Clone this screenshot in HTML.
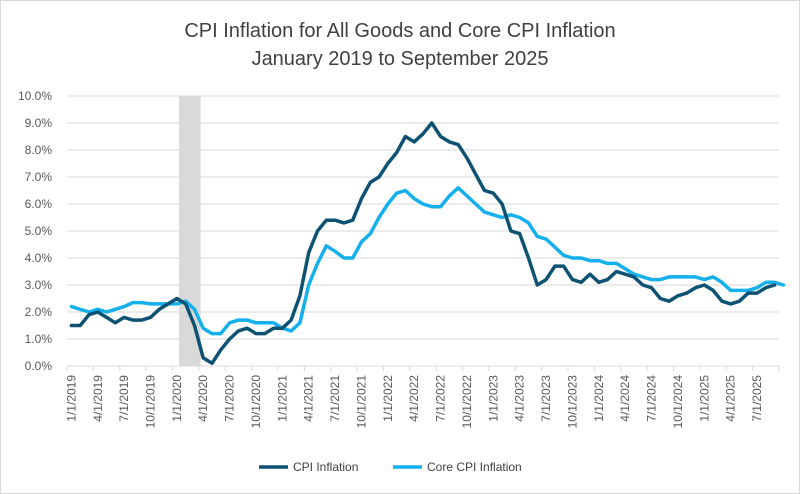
<!DOCTYPE html>
<html><head><meta charset="utf-8"><style>
html,body{margin:0;padding:0;background:#fff;}
svg{display:block;font-family:"Liberation Sans",Arial,sans-serif;}
</style></head><body>
<svg id="chart" width="800" height="494" viewBox="0 0 800 494">
<rect x="0.5" y="0.5" width="799" height="493" fill="#fff" stroke="#d9d9d9"/>
<text x="400" y="37" text-anchor="middle" font-size="20" fill="#404040">CPI Inflation for All Goods and Core CPI Inflation</text>
<text x="400" y="65" text-anchor="middle" font-size="20" fill="#404040">January 2019 to September 2025</text>
<g id="grid"></g>
<g id="shade"></g>
<g id="yaxis"></g>
<g id="xaxis"></g>
<g id="series"></g>
<g>
<g>
<line x1="259" y1="467" x2="288" y2="467" stroke="#0d5273" stroke-width="3.5"/>
<text x="293" y="471" font-size="12" fill="#404040">CPI Inflation</text>
</g>
<g>
<line x1="393" y1="467" x2="422" y2="467" stroke="#14b0ec" stroke-width="3.5"/>
<text x="427" y="471" font-size="12" fill="#404040">Core CPI Inflation</text>
</g>
</g>
</svg>
<script>
const months = [];
for (let y = 2019; y <= 2025; y++) for (let m = 1; m <= 12; m++) { if (y === 2025 && m > 9) break; months.push(m + "/1/" + y); }
const cpiValues = [1.5,1.5,1.9,2.0,1.8,1.6,1.8,1.7,1.7,1.8,2.1,2.3,
2.5,2.3,1.5,0.3,0.1,0.6,1.0,1.3,1.4,1.2,1.2,1.4,
1.4,1.7,2.6,4.2,5.0,5.4,5.4,5.3,5.4,6.2,6.8,7.0,
7.5,7.9,8.5,8.3,8.6,9.0,8.5,8.3,8.2,7.7,7.1,6.5,
6.4,6.0,5.0,4.9,4.0,3.0,3.2,3.7,3.7,3.2,3.1,3.4,
3.1,3.2,3.5,3.4,3.3,3.0,2.9,2.5,2.4,2.6,2.7,2.9,
3.0,2.8,2.4,2.3,2.4,2.7,2.7,2.9,3.0];
const coreValues = [2.2,2.1,2.0,2.1,2.0,2.1,2.2,2.35,2.35,2.3,2.3,2.3,
2.3,2.4,2.1,1.4,1.2,1.2,1.6,1.7,1.7,1.6,1.6,1.6,
1.4,1.3,1.6,3.0,3.8,4.45,4.25,4.0,4.0,4.6,4.9,5.5,
6.0,6.4,6.5,6.2,6.0,5.9,5.9,6.3,6.6,6.3,6.0,5.7,
5.6,5.5,5.6,5.5,5.3,4.8,4.7,4.4,4.1,4.0,4.0,3.9,
3.9,3.8,3.8,3.6,3.4,3.3,3.2,3.2,3.3,3.3,3.3,3.3,
3.2,3.3,3.1,2.8,2.8,2.8,2.9,3.1,3.1,3.0];
const yTicks = [0,1,2,3,4,5,6,7,8,9,10];
const recessionStart = 12.75, recessionEnd = 15.2;

const NS = "http://www.w3.org/2000/svg";
const L = 67, R = 779, T = 96, B = 366;
const step = (R - L) / months.length;
const xPos = i => L + step * (i + 0.5);
const xEdge = i => L + step * i;
const yPos = v => B - (B - T) * v / 10;
function mk(tag, attrs, parent){ const e = document.createElementNS(NS, tag); for (const k in attrs) e.setAttribute(k, attrs[k]); parent.appendChild(e); return e; }

const grid = document.getElementById('grid'), yaxis = document.getElementById('yaxis');
yTicks.forEach(t => {
  if (t > 0) {
    const g = mk('line', {x1:L, x2:R, y1:yPos(t), y2:yPos(t), stroke:'#d9d9d9', 'stroke-width':1}, grid);
    
    
  }
  const lb = mk('text', {x:52, y:yPos(t)+4, 'text-anchor':'end', 'font-size':12, fill:'#595959'}, yaxis);
  lb.textContent = t.toFixed(1) + '%';
  
  
});

const sh = mk('rect', {x:xEdge(recessionStart), y:T, width:xEdge(recessionEnd)-xEdge(recessionStart), height:B-T, fill:'#d9d9d9'}, document.getElementById('shade'));



const xaxis = document.getElementById('xaxis');
const ax = mk('line', {x1:L, x2:R, y1:B, y2:B, stroke:'#d9d9d9', 'stroke-width':1}, xaxis);


months.forEach((m, i) => {
  if (i % 3 !== 0) return;
  const tk = mk('line', {x1:xEdge(i), x2:xEdge(i), y1:B, y2:B+5, stroke:'#d9d9d9'}, xaxis);
  
  
  const x = xPos(i) + 4, y = 375;
  const lb = mk('text', {x:x, y:y, 'text-anchor':'end', 'font-size':12, fill:'#595959', transform:`rotate(-90 ${x} ${y})`}, xaxis);
  lb.textContent = m;
  
  
});
mk('line', {x1:R, x2:R, y1:B, y2:B+5, stroke:'#d9d9d9'}, xaxis);

const series = document.getElementById('series');
function drawLine(vals, color, name){
  const d = vals.map((v,i) => (i?'L':'M') + xPos(i).toFixed(1) + ' ' + yPos(v).toFixed(1)).join(' ');
  const p = mk('path', {d:d, fill:'none', stroke:color, 'stroke-width':3.5, 'stroke-linejoin':'round', 'stroke-linecap':'round'}, series);
  
  
}
drawLine(coreValues, '#14b0ec', 'core-cpi-line');
drawLine(cpiValues, '#0d5273', 'cpi-line');
</script>
</body></html>
